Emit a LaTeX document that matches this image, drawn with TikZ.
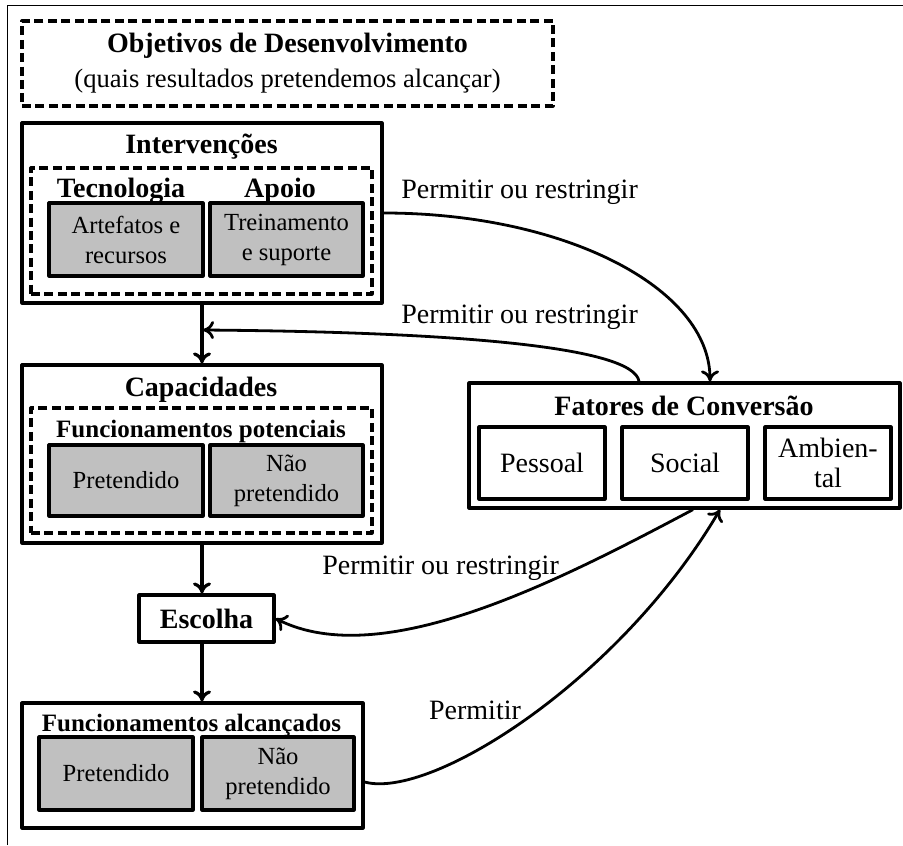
\documentclass[tikz,border=0pt]{standalone}
\usepackage{fontspec}
\setmainfont{Liberation Serif}
\usetikzlibrary{arrows.meta}
\definecolor{boxgray}{RGB}{192,192,192}
\begin{document}
\begin{tikzpicture}[x=0.5pt, y=0.5pt, line join = round, >={To[length=5.5pt,width=9pt]}]
	\tikzset{frame/.style={draw, line width=1.6pt, inner sep=0pt},
		dashframe/.style={draw, line width=1.6pt, dash pattern=on 4.5pt off 2.2pt, inner sep=0pt},
		graybox/.style={frame, fill=boxgray, align=center, font=\fontsize{12.3}{15}\selectfont},
		whitebox/.style={frame, fill=white, align=center, font=\fontsize{14}{15}\selectfont},
		title/.style={font=\fontsize{14}{17.5}\selectfont\bfseries, inner sep=0pt},
		subtitle/.style={font=\fontsize{12.5}{15}\selectfont\bfseries, inner sep=0pt},
		edge label/.style={font=\fontsize{14}{17}\selectfont, inner sep=0pt},
		link/.style={->, line width=1.4pt},
		mainlink/.style={->, line width=1.6pt}}
	\useasboundingbox (0,0) rectangle (903,-845);
	\draw[line width=0.5pt] (7,-845) -- (7,-6) -- (903,-6);
	% objetivos
	\node[dashframe, minimum width=265.5pt, minimum height=42.5pt, align=center, font=\fontsize{13.3}{17.5}\selectfont] (obj) at (287.5,-63.5) {{\fontsize{14}{17.5}\selectfont\bfseries Objetivos de Desenvolvimento}\\(quais resultados pretendemos alcançar)};
	% intervencoes
	\node[frame, minimum width=180pt, minimum height=90pt] (int) at (202,-213) {};
	\node[title] (intT) at (201.5,-147) {Intervenções};
	\node[dashframe, minimum width=170.5pt, minimum height=63pt] (intD) at (201.5,-231) {};
	\node[title] (tec) at (121,-191) {Tecnologia};
	\node[title] (apo) at (280,-191) {Apoio};
	\node[graybox, minimum width=77pt, minimum height=36.5pt] (art) at (126,-239.5) {Artefatos e\\recursos};
	\node[graybox, minimum width=76.5pt, minimum height=36.5pt] (trei) at (286.5,-239.5) {Treinamento\\e suporte};
	% capacidades
	\node[frame, minimum width=180pt, minimum height=89pt] (cap) at (202,-454) {};
	\node[title] (capT) at (201,-390) {Capacidades};
	\node[dashframe, minimum width=170.5pt, minimum height=62.5pt] (capD) at (201.5,-470.5) {};
	\node[subtitle] (pot) at (201,-431) {Funcionamentos potenciais};
	\node[graybox, minimum width=77pt, minimum height=35.5pt] (pre1) at (126,-480.5) {Pretendido};
	\node[graybox, minimum width=76.5pt, minimum height=35.5pt] (nao1) at (286.5,-480.5) {Não\\pretendido};
	% escolha
	\node[frame, title, inner sep=0pt, minimum width=67.5pt, minimum height=23.5pt] (esc) at (206.5,-618.5) {Escolha};
	% funcionamentos alcancados
	\node[frame, minimum width=170.5pt, minimum height=62.5pt] (fa) at (192.5,-765.5) {};
	\node[subtitle] (alc) at (191.5,-725) {Funcionamentos alcançados};
	\node[graybox, minimum width=77pt, minimum height=36.5pt] (pre2) at (116,-773.5) {Pretendido};
	\node[graybox, minimum width=76pt, minimum height=36.5pt] (nao2) at (278,-773.5) {Não\\pretendido};
	% fatores de conversao
	\node[frame, minimum width=215.5pt, minimum height=62.5pt] (fat) at (684.5,-445.5) {};
	\node[title] (fatT) at (684,-406) {Fatores de Conversão};
	\node[whitebox, minimum width=63pt, minimum height=36pt] (pes) at (542,-463) {Pessoal};
	\node[whitebox, minimum width=63pt, minimum height=36pt] (soc) at (685,-463) {Social};
	\node[whitebox, minimum width=63pt, minimum height=36pt] (amb) at (828,-463) {Ambien-\\tal};
	% setas
	\coordinate (j1) at (203,-330);
	\draw[mainlink] (int) -- (cap);
	\draw[mainlink] (cap.south) -- (cap.south |- esc.north);
	\draw[mainlink] (cap.south |- esc.south) -- (cap.south |- fa.north);
	\draw[link] (int.east) .. controls +(180,0) and +(0,94) .. ([xshift=12.75pt]fat.north);
	\draw[link] ([xshift=-22.75pt]fat.north) .. controls +(-5,35) and +(250,-2) .. (j1);
	\draw[link] ([xshift=4.25pt]fat.south) .. controls +(-132,-70) and +(107,-54) .. (esc.east);
	\draw[link] ([yshift=-8.25pt]fa.east) .. controls +(67,-18) and +(-100,-170) .. ([xshift=17.75pt]fat.south);
	\node[edge label, anchor=west] (lab1) at (401,-192) {Permitir ou restringir};
	\node[edge label, anchor=west] (lab2) at (401,-317) {Permitir ou restringir};
	\node[edge label, anchor=west] (lab3) at (322,-568) {Permitir ou restringir};
	\node[edge label] (lab4) at (475,-710) {Permitir};
\end{tikzpicture}
\end{document}
